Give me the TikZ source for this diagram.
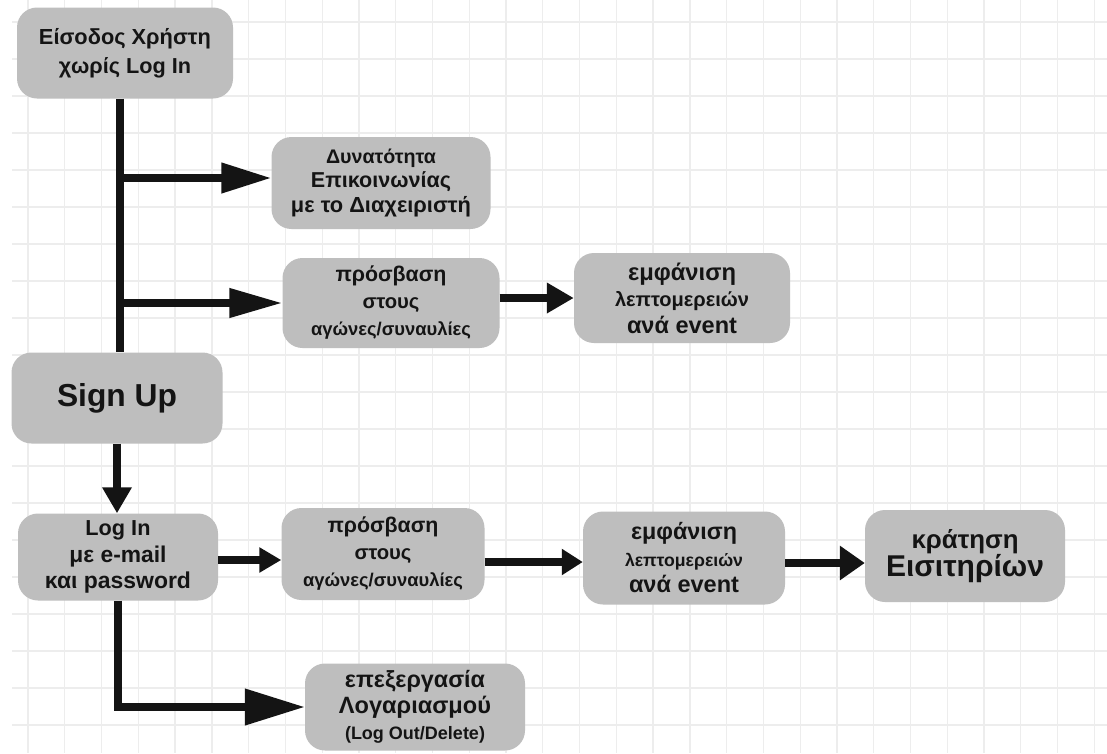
\documentclass[tikz,border=0pt]{standalone}
\usepackage{fontspec}
\setmainfont{Liberation Sans}
\usepackage{graphicx}
\usetikzlibrary{arrows.meta}

\definecolor{boxgray}{HTML}{BEBEBE}
\definecolor{ink}{HTML}{141414}
\definecolor{gridgray}{HTML}{EDEDED}

% one line of a label, scaled to a given width
\newcommand{\fitw}[2]{\resizebox{#1pt}{!}{#2}}

\begin{document}
\begin{tikzpicture}[x=1pt,y=-1pt,
  box/.style={rectangle, rounded corners=20pt, fill=boxgray, text=ink,
    align=center, inner sep=0pt},
  lsk/.style={font=\bfseries\fontsize{12}{#1pt}\selectfont},
  link/.style={line width=7.5pt, draw=ink},
  gridline/.style={draw=gridgray, line width=1.3pt}]

% paper and grid
\fill[white] (0,0) rectangle (1107,753);
\useasboundingbox (0,0) rectangle (1107,753);
\foreach \i in {0,...,29} \draw[gridline] (28+36.77*\i,0) -- (28+36.77*\i,753);
\foreach \j in {0,...,19} \draw[gridline] (12,22+37*\j) -- (1107,22+37*\j);

% boxes
\node[box, lsk=29, minimum width=216pt, minimum height=91pt] (guest) at (125,53)
  {\fitw{172}{Είσοδος Χρήστη}\\\fitw{132}{χωρίς Log In}};
\node[box, lsk=24.5, minimum width=219pt, minimum height=92pt] (contact) at (381,183)
  {\fitw{110}{Δυνατότητα}\\\fitw{140}{Επικοινωνίας}\\\fitw{180}{με το Διαχειριστή}};
\node[box, lsk=27, minimum width=217pt, minimum height=90pt] (access1) at (391,303)
  {\fitw{111}{πρόσβαση}\\\fitw{57}{στους}\\\fitw{160}{αγώνες/συναυλίες}};
\node[box, lsk=26.5, minimum width=216pt, minimum height=90pt] (details1) at (682,298)
  {\fitw{108}{εμφάνιση}\\\fitw{134}{λεπτομερειών}\\\fitw{110}{ανά event}};
\node[box, lsk=30, minimum width=211pt, minimum height=91pt] (signup) at (117,398)
  {\fitw{120}{Sign Up}};
\node[box, lsk=26.5, minimum width=200pt, minimum height=87pt] (login) at (118,557)
  {\fitw{65}{Log In}\\\fitw{97}{με e-mail}\\\fitw{146}{και password}};
\node[box, lsk=27, minimum width=203pt, minimum height=92pt] (access2) at (383,554)
  {\fitw{111}{πρόσβαση}\\\fitw{57}{στους}\\\fitw{160}{αγώνες/συναυλίες}};
\node[box, lsk=26.5, minimum width=202pt, minimum height=93pt] (details2) at (684,558)
  {\fitw{106}{εμφάνιση}\\\fitw{118}{λεπτομερειών}\\\fitw{110}{ανά event}};
\node[box, lsk=27, minimum width=200pt, minimum height=92pt] (booking) at (965,556)
  {\fitw{107}{κράτηση}\\\fitw{158}{Εισιτηρίων}};
\node[box, lsk=26, minimum width=220pt, minimum height=87pt] (account) at (415,707)
  {\fitw{140}{επεξεργασία}\\\fitw{152}{Λογαριασμού}\\\fitw{140}{(Log Out/Delete)}};

% branch points
\coordinate (trunk) at (120,0);
\coordinate (b1) at (120,178);
\coordinate (b2) at (120,303);
\coordinate (r1) at (0,560);
\coordinate (r2) at (0,562);
\coordinate (r3) at (0,563);

% connectors
\draw[link] (guest.south -| trunk) -- (signup.north -| trunk);
\draw[link, -{Triangle[length=50pt,width=29pt]}] (b1) -- (b1 -| contact.west);
\draw[link, -{Triangle[length=53pt,width=28pt]}] (b2) -- (b2 -| access1.west);
\draw[link, -{Triangle[length=27pt,width=29pt]}] (access1.east |- details1.west) -- (details1.west);
\draw[link, -{Triangle[length=26pt,width=28pt]}] (signup.south) -- (signup.south |- login.north);
\draw[link, -{Triangle[length=22pt,width=24pt]}] (login.east |- r1) -- (access2.west |- r1);
\draw[link, -{Triangle[length=21pt,width=25pt]}] (access2.east |- r2) -- (details2.west |- r2);
\draw[link, -{Triangle[length=25pt,width=33pt]}] (details2.east |- r3) -- (booking.west |- r3);
\draw[link, -{Triangle[length=60pt,width=35pt]}] (login.south) |- (account.west);
\end{tikzpicture}
\end{document}
